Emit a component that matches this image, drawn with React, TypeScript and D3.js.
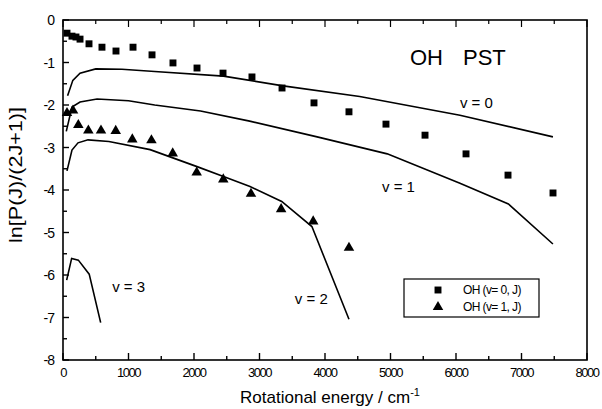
import React from 'react'
import * as d3 from 'd3'

// experimental points, OH(v=0,J) squares and OH(v=1,J) triangles
const squareEnergy = [61, 137, 198, 260, 397, 595, 809, 1069, 1359, 1679, 2046, 2443, 2885, 3344, 3832, 4366, 4931, 5527, 6153, 6794, 7481]
const squareLn = [-0.31, -0.38, -0.40, -0.45, -0.56, -0.64, -0.73, -0.64, -0.82, -1.01, -1.13, -1.25, -1.34, -1.60, -1.95, -2.16, -2.45, -2.71, -3.15, -3.65, -4.07]
const triEnergy = [61, 153, 234, 387, 580, 805, 1058, 1350, 1675, 2041, 2447, 2870, 3330, 3820, 4366]
const triLn = [-2.19, -2.13, -2.47, -2.60, -2.60, -2.61, -2.81, -2.83, -3.14, -3.59, -3.75, -4.09, -4.45, -4.74, -5.36]

// PST curves
const v0Energy = [70, 150, 260, 500, 900, 1400, 2450, 3360, 4530, 6060, 7480]
const v0Ln = [-1.78, -1.42, -1.25, -1.15, -1.16, -1.21, -1.32, -1.55, -1.80, -2.24, -2.75]
const v1Energy = [50, 137, 260, 520, 1000, 1400, 2100, 2850, 3880, 4950, 6060, 6800, 7480]
const v1Ln = [-2.62, -2.05, -1.93, -1.86, -1.90, -2.00, -2.14, -2.38, -2.75, -3.15, -3.84, -4.33, -5.27]
const v2Energy = [61, 137, 229, 382, 700, 1330, 2046, 2450, 2855, 3339, 3800, 4366]
const v2Ln = [-3.55, -3.06, -2.89, -2.82, -2.86, -3.05, -3.45, -3.68, -3.92, -4.27, -4.86, -7.04]
const v3Energy = [56, 132, 234, 400, 575]
const v3Ln = [-6.12, -5.61, -5.65, -5.98, -7.12]

const curveLabels = ['v = 0', 'v = 1', 'v = 2', 'v = 3']
const curveLabelAt = [[6060, -2.07], [4870, -4.05], [3540, -6.68], [750, -6.4]]

const xTicks = [0, 1000, 2000, 3000, 4000, 5000, 6000, 7000, 8000]
const yTicks = [0, -1, -2, -3, -4, -5, -6, -7, -8]

const legendLabels = ['OH (v= 0, J)', 'OH (v= 1, J)']

const width = 602
const height = 409
const left = 63
const right = 587
const top = 20
const bottom = 360
const font = 'Liberation Sans, Arial, sans-serif'

export default function App() {
  const x = d3.scaleLinear().domain([0, 8000]).range([left, right])
  const y = d3.scaleLinear().domain([-8, 0]).range([bottom, top])
  const line = d3.line<[number, number]>().x(d => x(d[0])).y(d => y(d[1]))

  const curves = [
    d3.zip(v0Energy, v0Ln),
    d3.zip(v1Energy, v1Ln),
    d3.zip(v2Energy, v2Ln),
    d3.zip(v3Energy, v3Ln),
  ] as [number, number][][]

  const square = d3.symbol(d3.symbolSquare, 48)()
  const triangle = d3.symbol(d3.symbolTriangle, 48)()

  const xMinor = d3.range(500, 8000, 1000)
  const yMinor = d3.range(-7.5, 0, 1)

  return (
    <svg width={width} height={height} style={{ position: 'absolute', left: 0, top: 0, background: '#fff' }}
      fontFamily={font}>
      <rect x={0} y={0} width={width} height={height} fill='#fff' />

      {/* frame */}
      <rect x={left} y={top} width={right - left} height={bottom - top} fill='none' stroke='#000' strokeWidth={1.6} />

      {/* ticks, inward */}
      {xTicks.map(t => (
        <g key={'xt' + t}>
          <line x1={x(t)} x2={x(t)} y1={bottom} y2={bottom - 7} stroke='#000' strokeWidth={1.4} />
          <line x1={x(t)} x2={x(t)} y1={top} y2={top + 7} stroke='#000' strokeWidth={1.2} />
          <text x={x(t)} y={bottom + 17} textAnchor='middle' fontSize={13} letterSpacing={-1.5}>{t}</text>
        </g>
      ))}
      {xMinor.map(t => (
        <g key={'xm' + t}>
          <line x1={x(t)} x2={x(t)} y1={bottom} y2={bottom - 4} stroke='#000' strokeWidth={1.4} />
          <line x1={x(t)} x2={x(t)} y1={top} y2={top + 4} stroke='#000' strokeWidth={1.2} />
        </g>
      ))}
      {yTicks.map(t => (
        <g key={'yt' + t}>
          <line x1={left} x2={left + 6} y1={y(t)} y2={y(t)} stroke='#000' strokeWidth={1.4} />
          <text x={left - 9} y={y(t) + 5} textAnchor='end' fontSize={14} letterSpacing={-1}>{t === 0 ? '0' : '-' + Math.abs(t)}</text>
        </g>
      ))}
      {yMinor.map(t => (
        <line key={'ym' + t} x1={left} x2={left + 4} y1={y(t)} y2={y(t)} stroke='#000' strokeWidth={1.4} />
      ))}

      {/* PST curves */}
      {curves.map((c, i) => (
        <path key={'c' + i} d={line(c) || ''} fill='none' stroke='#000' strokeWidth={1.6} />
      ))}
      {curveLabels.map((s, i) => (
        <text key={'cl' + i} x={x(curveLabelAt[i][0])} y={y(curveLabelAt[i][1])} fontSize={15}>{s}</text>
      ))}

      {/* experiment */}
      {squareEnergy.map((e, i) => (
        <path key={'s' + i} d={square || ''} transform={`translate(${x(e)},${y(squareLn[i])})`} fill='#000' />
      ))}
      {triEnergy.map((e, i) => (
        <path key={'t' + i} d={triangle || ''} transform={`translate(${x(e)},${y(triLn[i])})`} fill='#000' />
      ))}

      <text x={410} y={65} fontSize={22}>OH</text>
      <text x={463} y={65} fontSize={22}>PST</text>

      {/* legend */}
      <rect x={404} y={279} width={135} height={38} fill='#fff' stroke='#000' strokeWidth={1.2} />
      <path d={square || ''} transform='translate(438,290)' fill='#000' />
      <path d={triangle || ''} transform='translate(438,307)' fill='#000' />
      {legendLabels.map((s, i) => (
        <text key={'lg' + i} x={463} y={294 + i * 16.5} fontSize={12} letterSpacing={-0.6}>{s}</text>
      ))}

      {/* axis titles */}
      <text x={(left + right) / 2 + 5} y={403} textAnchor='middle' fontSize={17}>
        Rotational energy / cm<tspan dy={-7} fontSize={11}>-1</tspan>
      </text>
      <text transform={`translate(22,175) rotate(-90)`} textAnchor='middle' fontSize={18}
        textLength={136} lengthAdjust='spacingAndGlyphs'>ln[P(J)/(2J+1)]</text>
    </svg>
  )
}
